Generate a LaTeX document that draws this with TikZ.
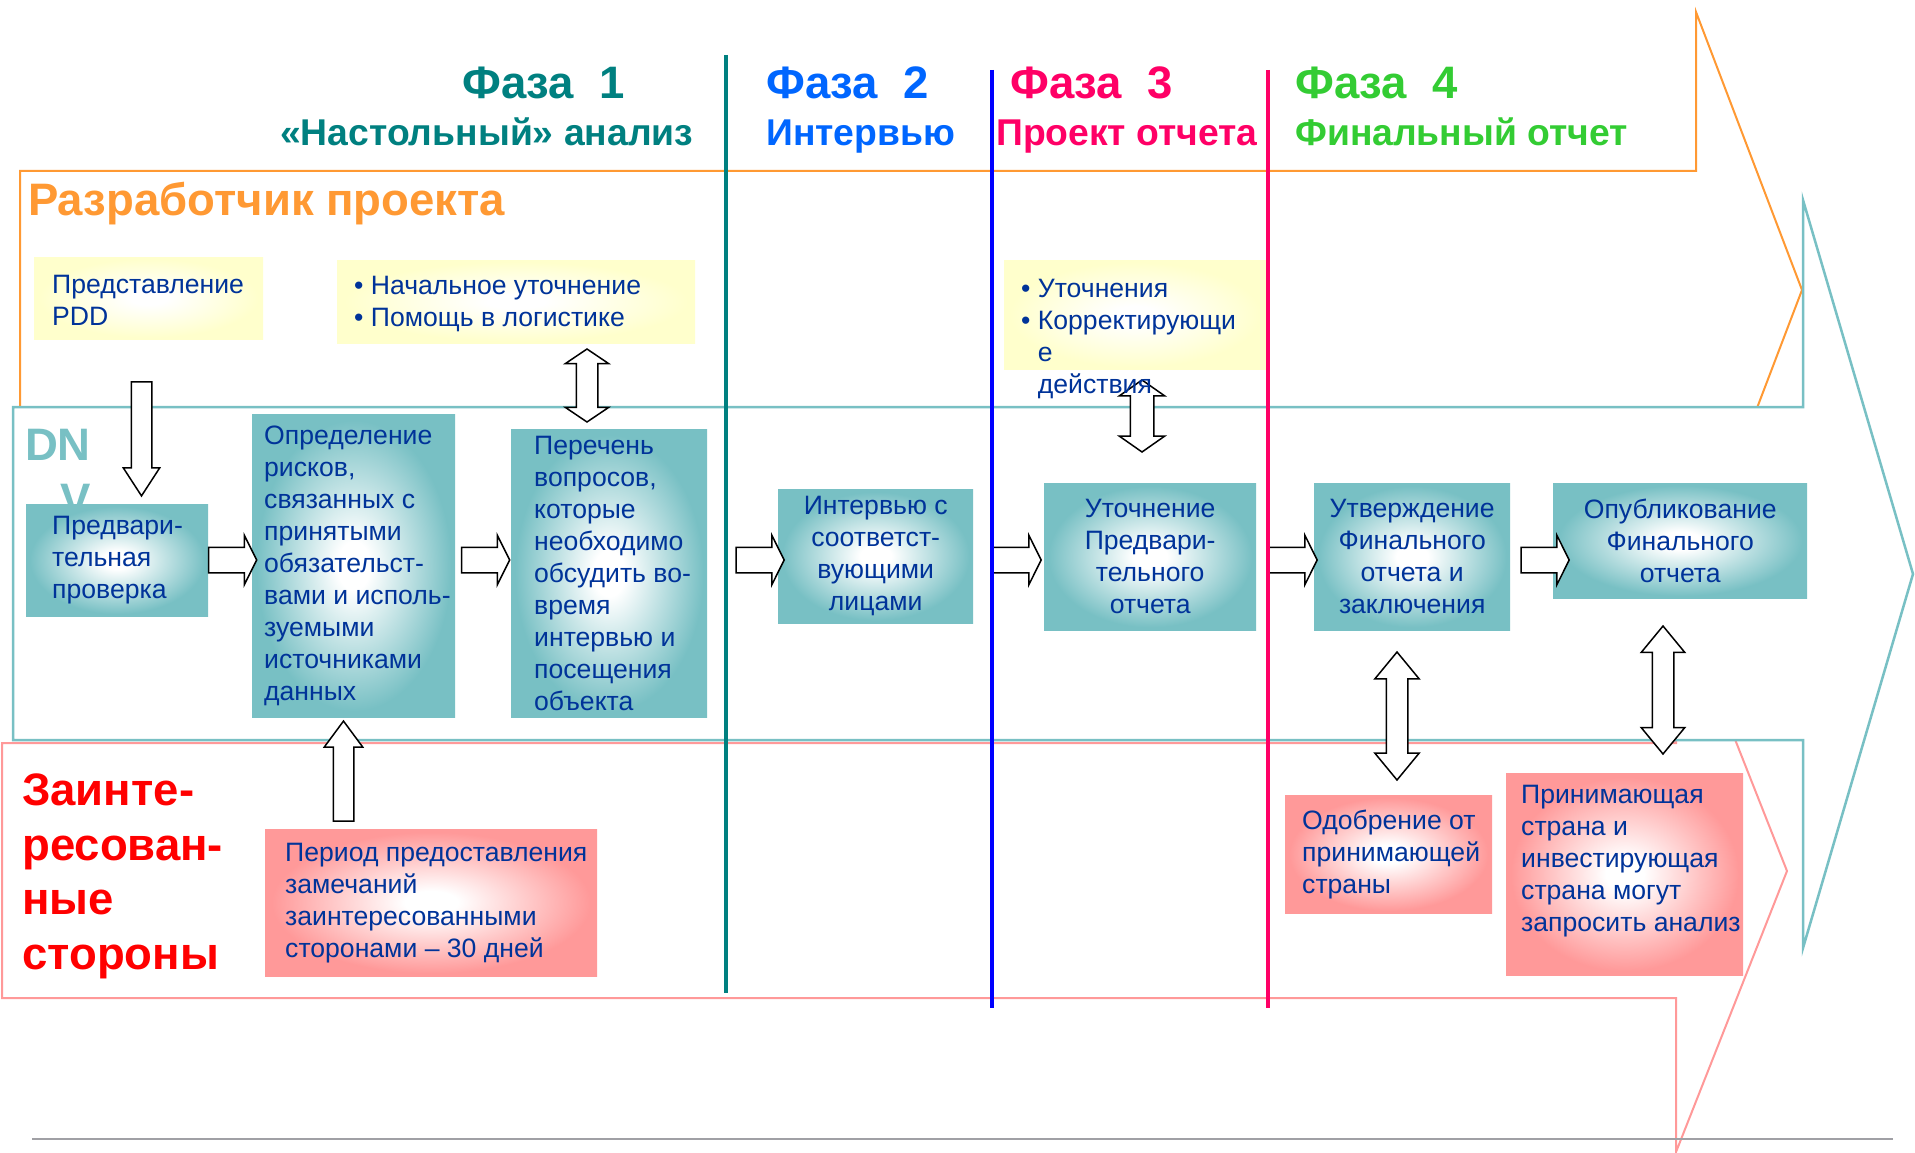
\documentclass[tikz,border=0pt]{standalone}
\usepackage{fontspec}
\setmainfont{Liberation Sans}
\usetikzlibrary{shapes.arrows}

\definecolor{phaseteal}{RGB}{0,128,128}
\definecolor{phaseblue}{RGB}{0,102,255}
\definecolor{lineblue}{RGB}{0,0,255}
\definecolor{phasered}{RGB}{255,0,102}
\definecolor{phasegreen}{RGB}{51,204,51}
\definecolor{devorange}{RGB}{255,153,51}
\definecolor{dnvteal}{RGB}{120,192,196}
\definecolor{stakepink}{RGB}{255,153,153}
\definecolor{notefill}{RGB}{255,255,204}
\definecolor{boxblue}{RGB}{0,51,153}
\definecolor{rulegray}{RGB}{160,160,165}

\pgfdeclareradialshading{tealglow}{\pgfpointorigin}{color(0bp)=(white); color(4bp)=(white); color(24bp)=(dnvteal); color(50bp)=(dnvteal)}
\pgfdeclareradialshading{noteglow}{\pgfpointorigin}{color(0bp)=(white); color(4bp)=(white); color(24bp)=(notefill); color(50bp)=(notefill)}
\pgfdeclareradialshading{pinkglow}{\pgfpointorigin}{color(0bp)=(white); color(4bp)=(white); color(24bp)=(stakepink); color(50bp)=(stakepink)}

\tikzset{
  boxfont/.style={font=\fontsize{26.6}{32}\selectfont, text=boxblue, inner sep=0pt},
  tealbox/.style={boxfont, shade, shading=tealglow, anchor=north west},
  notebox/.style={boxfont, shade, shading=noteglow, anchor=north west},
  pinkbox/.style={boxfont, shade, shading=pinkglow, anchor=north west},
  phasetitle/.style={font=\fontsize{45.5}{54}\selectfont\bfseries, anchor=base west, inner sep=0pt},
  phasesub/.style={font=\fontsize{37.3}{44}\selectfont\bfseries, anchor=base west, inner sep=0pt},
  lanetitle/.style={font=\fontsize{45.5}{54.5}\selectfont\bfseries, inner sep=0pt},
  rarrow/.style={single arrow, draw=black, fill=white, line width=1.5pt, inner xsep=0pt, inner ysep=12pt,
    minimum height=48pt, single arrow head extend=12pt, single arrow tip angle=127},
  varrow/.style={single arrow, draw=black, fill=white, line width=1.5pt, inner xsep=0pt},
  dblarrow/.style={double arrow, draw=black, fill=white, line width=1.5pt, inner xsep=0pt, rotate=90}
}

\begin{document}
\begin{tikzpicture}[x=1pt,y=-1pt]
  \useasboundingbox (0,0) rectangle (1915,1153);

  % lanes
  \draw[devorange,line width=2pt,fill=white] (20,171) -- (1696,171) -- (1696,12) -- (1802,290) -- (1696,568) -- (1696,409) -- (20,409) -- cycle;
  \draw[stakepink,line width=2pt,fill=white] (2,743) -- (1676,743) -- (1676,590) -- (1787,871) -- (1676,1152) -- (1676,998) -- (2,998) -- cycle;
  \draw[dnvteal,line width=2.5pt,fill=white] (13,407) -- (1803,407) -- (1803,200) -- (1913,574) -- (1803,948) -- (1803,740) -- (13,740) -- cycle;
  \draw[rulegray,line width=2.5pt] (32,1139) -- (1893,1139);

  % phase headings
  \node[phasetitle,text=phaseteal] (ph1) at (462,99) {Фаза\ \ 1};
  \node[phasesub,text=phaseteal] (ph1sub) at (280,146) {«Настольный» анализ};
  \node[phasetitle,text=phaseblue] (ph2) at (766,99) {Фаза\ \ 2};
  \node[phasesub,text=phaseblue] (ph2sub) at (766,146) {Интервью};
  \node[phasetitle,text=phasered] (ph3) at (1010,99) {Фаза\ \ 3};
  \node[phasesub,text=phasered] (ph3sub) at (996,146) {Проект отчета};
  \node[phasetitle,text=phasegreen] (ph4) at (1295,99) {Фаза\ \ 4};
  \node[phasesub,text=phasegreen] (ph4sub) at (1295,146) {Финальный отчет};

  % lane titles
  \node[lanetitle,text=devorange,anchor=base west] (dev) at (28,215) {Разработчик проекта};
  \node[lanetitle,text=dnvteal,align=right,anchor=north east] (dnv) at (91,429) {DN\\V};
  \node[lanetitle,text=red,align=left,anchor=north west] (stake) at (22,774) {Заинте-\\ресован-\\ные\\стороны};

  % developer notes
  \node[notebox,minimum width=229pt,minimum height=82pt] (pdd) at (34,257) {};
  \node[boxfont,align=left,anchor=west] (pddtxt) at ([xshift=18pt,yshift=-2pt]pdd.west) {Представление\\PDD};
  \node[notebox,minimum width=358pt,minimum height=83pt] (help) at (337,260) {};
  \node[boxfont,align=left,anchor=west] (helptxt) at ([xshift=17pt,yshift=-2pt]help.west) {• Начальное уточнение\\• Помощь в логистике};
  \node[notebox,minimum width=262pt,minimum height=109pt] (fix) at (1004,260) {};

  % DNV steps
  \node[tealbox,minimum width=182pt,minimum height=112pt] (pre) at (26,504) {};
  \node[boxfont,align=left,anchor=west] (pretxt) at ([xshift=26pt]pre.west) {Предвари-\\тельная\\проверка};
  \node[tealbox,minimum width=203pt,minimum height=303pt] (risk) at (252,414) {};
  \node[boxfont,align=left,anchor=west] (risktxt) at ([xshift=12pt]risk.west) {Определение\\рисков,\\связанных с\\принятыми\\обязательст-\\вами и исполь-\\зуемыми\\источниками\\данных};
  \node[tealbox,minimum width=196pt,minimum height=288pt] (quest) at (511,429) {};
  \node[boxfont,align=left,anchor=west] (questtxt) at ([xshift=23pt]quest.west) {Перечень\\вопросов,\\которые\\необходимо\\обсудить во-\\время\\интервью и\\посещения\\объекта};
  \node[tealbox,align=center,minimum width=195pt,minimum height=134pt] (intv) at (778,489) {Интервью с\\соответст-\\вующими\\лицами};
  \node[tealbox,align=center,minimum width=212pt,minimum height=147pt] (draft) at (1044,483) {Уточнение\\Предвари-\\тельного\\отчета};
  \node[tealbox,align=center,minimum width=196pt,minimum height=147pt] (final) at (1314,483) {Утверждение\\Финального\\отчета и\\заключения};
  \node[tealbox,align=center,minimum width=254pt,minimum height=115pt] (publ) at (1553,483) {Опубликование\\Финального\\отчета};

  % stakeholder notes
  \node[pinkbox,minimum width=332pt,minimum height=147pt] (review) at (265,829) {};
  \node[boxfont,align=left,anchor=west] (reviewtxt) at ([xshift=20pt]review.west) {Период предоставления\\замечаний\\заинтересованными\\сторонами – 30 дней};
  \node[pinkbox,minimum width=207pt,minimum height=118pt] (host) at (1285,795) {};
  \node[boxfont,align=left,anchor=west] (hosttxt) at ([xshift=17pt]host.west) {Одобрение от\\принимающей\\страны};
  \node[pinkbox,minimum width=237pt,minimum height=202pt] (invest) at (1506,773) {};
  \node[boxfont,align=left,anchor=north west] (investtxt) at (1521,785) {Принимающая\\страна и\\инвестирующая\\страна могут\\запросить анализ};

  % block arrows
  \foreach \nm/\x in {ra/229.5, rb/482.5, rc/757, rd/1014, re/1290, rf/1542}
    \node[rarrow] (\nm) at (\x,560) {};
  \node[varrow,rotate=-90,minimum height=114pt,inner ysep=9.5pt,single arrow head extend=8pt,single arrow tip angle=66] (pddarr) at (141.5,431) {};
  \node[varrow,rotate=90,minimum height=100pt,inner ysep=9.5pt,single arrow head extend=9pt,single arrow tip angle=73] (reviewarr) at (343.5,778) {};
  \node[dblarrow,minimum height=73pt,inner ysep=10pt,double arrow head extend=11pt,double arrow tip angle=112] (helparr) at (587,385.5) {};
  \node[dblarrow,minimum height=72pt,inner ysep=11pt,double arrow head extend=11pt,double arrow tip angle=110] (fixarr) at (1142,416) {};
  \node[dblarrow,minimum height=128pt,inner ysep=10pt,double arrow head extend=11.5pt,double arrow tip angle=79] (hostarr) at (1397,716) {};
  \node[dblarrow,minimum height=128pt,inner ysep=10pt,double arrow head extend=11pt,double arrow tip angle=79] (investarr) at (1663,690) {};

  \node[boxfont,align=left,anchor=north west] (fixtxt) at (1021,279) {• Уточнения\\• Корректирующи\\\phantom{• }е\\\phantom{• }действия};

  % phase borders
  \foreach \x/\col/\ya/\yb in {726/phaseteal/55/993, 992/lineblue/70/1008, 1268/phasered/70/1008}
    \draw[\col,line width=4.5pt] (\x,\ya) -- (\x,\yb);
\end{tikzpicture}
\end{document}
